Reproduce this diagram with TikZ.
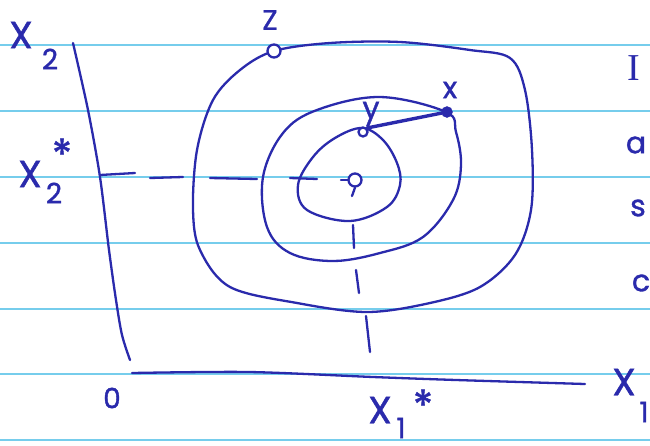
\documentclass[tikz,border=0pt]{standalone}
\usepackage{fontspec}
\setmainfont{Poppins}[FakeBold=1.2]
\newfontfamily\serifhand{Liberation Serif}
\definecolor{ink}{RGB}{42,42,172}
\definecolor{paperrule}{RGB}{118,205,236}
\begin{document}
\begin{tikzpicture}[x=1pt,y=-1pt,
  inkline/.style={draw=ink, line width=2.3pt, line cap=round, line join=round},
  ruleline/.style={draw=paperrule, line width=1.8pt},
  lbl/.style={text=ink, inner sep=0pt, anchor=center},
  big/.style={lbl, font=\fontsize{38}{38}\selectfont},
  mid/.style={lbl, font=\fontsize{28}{28}\selectfont},
  small/.style={lbl, font=\fontsize{30}{30}\selectfont},
  starlbl/.style={lbl, font=\fontsize{42}{42}\selectfont},
  ringpt/.style={circle, draw=ink, line width=2.3pt, inner sep=0pt, fill=white},
  fillpt/.style={circle, fill=ink, draw=ink, inner sep=0pt}]
\useasboundingbox (0,0) rectangle (650,445);
\clip (0,0) rectangle (650,445);
\fill[white] (0,0) rectangle (650,445);
% ruled paper
\foreach \yy in {45,111,177,243,309,374,440}
  \draw[ruleline] (0,\yy) -- (650,\yy);
% axes
\draw[inkline] plot[smooth] coordinates {(73,43) (88,110) (100,177) (109,250) (116,300) (122,335) (130,360)};
\draw[inkline] plot[smooth] coordinates {(132,373) (249,372) (373,377) (456,380) (585,384)};
% dashed guide lines
\draw[inkline] (100,175) -- (135,173);
\draw[inkline] (150,178) -- (183,177);
\draw[inkline] (210,178) -- (257,179);
\draw[inkline] (290,178) -- (317,179);
\draw[inkline] (341,180) -- (348,180);
\draw[inkline] (353,225) -- (354,248);
\draw[inkline] (356,270) -- (359,293);
\draw[inkline] (366,316) -- (370,352);
% contours
\draw[inkline] plot[smooth cycle, tension=0.6] coordinates {(362,128) (383,140) (397,163) (400,185) (387,207) (350,221) (307,210) (298,185) (313,157) (335,138)};
\draw[inkline] plot[smooth cycle, tension=0.6] coordinates {(446,112) (380,97) (317,110) (283,133) (263,177) (267,227) (290,253) (333,261) (380,253) (423,237) (453,200) (461,165) (456,132)};
\draw[inkline] plot[smooth cycle, tension=0.55] coordinates {(274,51) (330,43) (400,42) (470,50) (510,58) (525,90) (532,150) (531,210) (515,255) (480,287) (430,303) (367,312) (297,303) (230,287) (200,250) (193,210) (197,150) (213,100) (240,70)};
% points
\node[ringpt, minimum size=13pt] (zp) at (274,51) {};
\node[fillpt, minimum size=11pt] (xp) at (447,112) {};
\node[ringpt, minimum size=9pt] (yp) at (363,132) {};
\node[ringpt, minimum size=13pt] (gp) at (355,180) {};
\draw[inkline, line width=3.4pt] (yp.north east) -- (xp);
\coordinate (gtail) at (352,196);
\draw[inkline] (gp.south) -- (gtail);
% labels
\node[mid] (zl) at (270,20) {Z};
\node[small] (xl) at (450,90) {x};
\node[small] (yl) at (371,114) {y};
\node[big] (x2a) at (21,35) {X};
\node[mid] (x2b) at (50,59) {2};
\node[big] (x2s) at (30,174) {X};
\node[mid] (x2sb) at (54,193) {2};
\node[starlbl] (x2st) at (62,154) {*};
\node[mid] (zero) at (112,398) {0};
\node[big] (x1s) at (380,410) {X};
\node[starlbl] (x1st) at (423,405) {*};
\node[mid] (x1sb) at (401,428) {1};
\node[big] (x1a) at (624,382) {X};
\node[mid] (x1b) at (644,412) {1};
\node[lbl, font=\fontsize{38}{38}\selectfont\serifhand] (ti) at (634,68) {I};
\node[small] (ta) at (636,145) {a};
\node[small] (ts) at (638,208) {s};
\node[small] (tc) at (641,283) {c};
\end{tikzpicture}
\end{document}
